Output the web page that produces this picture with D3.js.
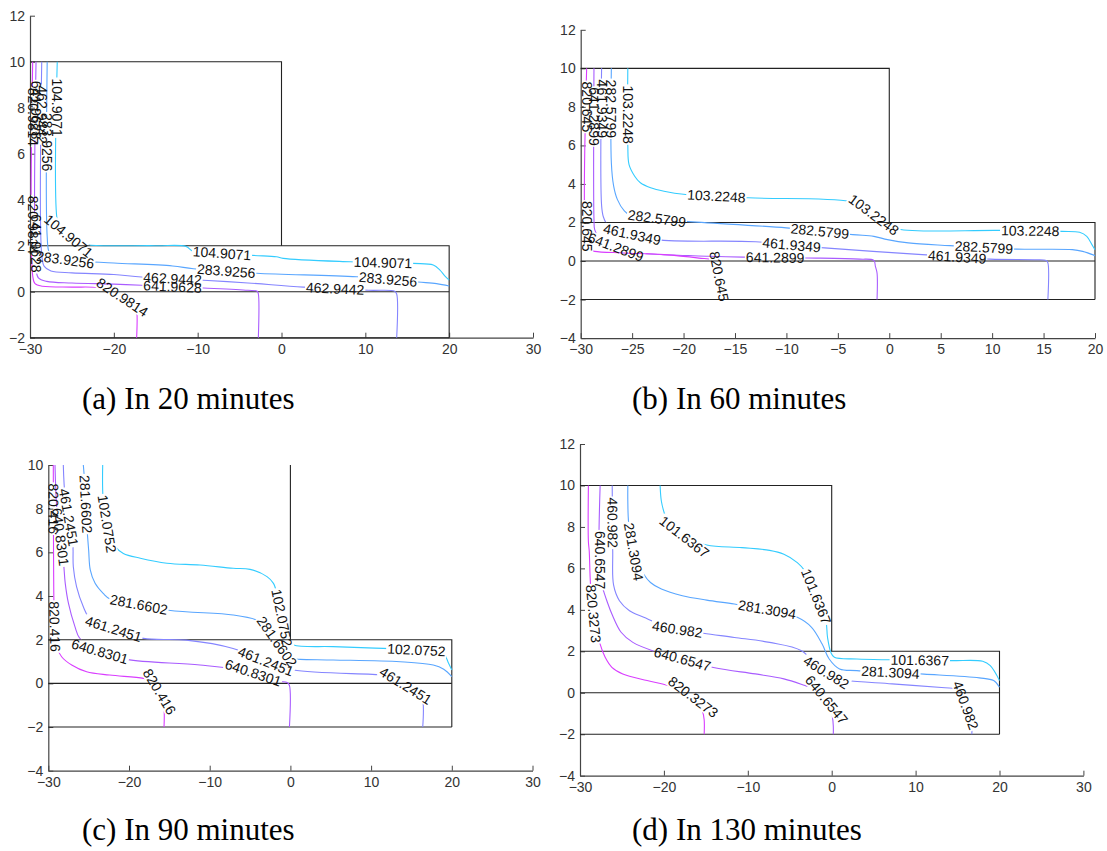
<!DOCTYPE html>
<html>
<head>
<meta charset="utf-8">
<script src="https://cdn.jsdelivr.net/npm/d3@7"></script>
<style>
  body { margin: 0; background: #fff; }
  svg { display: block; }
</style>
</head>
<body>
<svg id="chart" width="1107" height="851"></svg>
<script>
// colours of the five contour levels (low -> high)
const levelColors = ["#33ccff", "#59a6ff", "#8585ff", "#a95cff", "#d93dff"];

// ---------- (a) 20 minutes ----------
const levelsA = [104.9071, 283.9256, 462.9442, 641.9628, 820.9814];
const linesA = [
  [[-26.75,10],[-26.75,3.1],[-26.3,2.7],[-24.5,2.15],[-23,2.03],[-15,2.0],[-11.4,1.97],[-10.5,1.75],[-3.5,1.58],[-0.6,1.52],[0.2,1.45],[8.2,1.3],[15.7,1.23],[18.1,1.16],[18.9,0.94],[19.5,0.68],[20,0.5]],
  [[-27.95,10],[-27.95,2.4],[-27.7,1.7],[-27,1.45],[-25,1.35],[-20,1.25],[-13,1.12],[-10.5,1.0],[-3,0.8],[9,0.65],[16.3,0.42],[18.5,0.35],[20,0.25]],
  [[-28.6,10],[-28.6,1.6],[-28.3,1.1],[-27.5,0.9],[-25,0.82],[-20,0.75],[-16.7,0.64],[-9.3,0.5],[-4,0.38],[2.6,0.2],[10.4,0.06],[13.5,0.02],[13.74,-0.1],[13.74,-2]],
  [[-29.28,10],[-29.28,1.0],[-29.0,0.6],[-28,0.45],[-25,0.38],[-20,0.33],[-16.7,0.28],[-9.3,0.16],[-4,0.06],[-2.9,0.02],[-2.76,-0.1],[-2.76,-2]],
  [[-29.68,10],[-29.68,0.7],[-29.4,0.35],[-28.5,0.24],[-25,0.2],[-22,0.18],[-20,0.0],[-17.5,-0.6],[-17.28,-0.8],[-17.28,-2]]
];
const labelsA = [
  [0,-26.75,8.0],[0,-25.4,2.42],[0,-7.1,1.66],[0,12.1,1.27],
  [1,-27.95,6.5],[1,-25.8,1.38],[1,-6.6,0.88],[1,12.7,0.5],
  [2,-28.6,7.7],[2,-13.0,0.57],[2,6.4,0.12],
  [3,-29.28,7.9],[3,-29.28,2.1],[3,-13.0,0.22],
  [4,-29.68,7.6],[4,-29.68,2.9],[4,-19.0,-0.25]
];
const wallsA = [[[-30,10],[0,10],[0,2]], [[-30,2],[20,2],[20,-2]], [[-30,0],[20,0]], [[-30,-2],[20,-2]]];
const xTicksA = [-30,-20,-10,0,10,20,30];
const yTicksA = [-2,0,2,4,6,8,10,12];

// ---------- (b) 60 minutes ----------
const levelsB = [103.2248, 282.5799, 461.9349, 641.2899, 820.645];
const linesB = [
  [[-25.42,10],[-25.42,6],[-25.3,5.0],[-24.75,4.4],[-24.2,4.06],[-23.2,3.8],[-21.9,3.62],[-19.8,3.45],[-13.7,3.28],[-3.9,3.1],[-2.5,2.8],[-0.5,2.0],[0.85,1.66],[10.7,1.59],[16.8,1.54],[18.5,1.49],[19.2,1.28],[19.7,0.85],[20,0.59]],
  [[-27.02,10],[-27.02,5.1],[-26.8,3.9],[-26.44,3.2],[-25.76,2.6],[-25.25,2.4],[-22.5,2.2],[-19.8,2.06],[-10,1.72],[-3.56,1.37],[-1.5,1.28],[-0.17,1.11],[1.86,0.94],[5.9,0.8],[12.4,0.62],[17.8,0.59],[18.8,0.5],[20,0.28]],
  [[-27.97,10],[-27.97,2.9],[-27.8,2.3],[-27.3,1.8],[-26.5,1.55],[-22.7,1.11],[-13,1.0],[-6.3,0.68],[3.2,0.33],[9.8,0.1],[14.07,0.07],[15.25,0.03],[15.42,-0.1],[15.42,-2]],
  [[-28.71,10],[-28.71,2.2],[-28.64,1.63],[-28.3,1.28],[-27.5,0.9],[-26,0.6],[-24.4,0.42],[-17.5,0.25],[-14.2,0.2],[-8,0.16],[-2.9,0.1],[-1.5,0.03],[-1.35,-0.28],[-1.19,-0.62],[-1.19,-2]],
  [[-29.42,10],[-29.42,0.76],[-29.15,0.59],[-28.64,0.5],[-25.9,0.42],[-21.9,0.33],[-18.5,0.15],[-17.2,0.05],[-16.7,-0.4],[-16.4,-1.2],[-16.27,-1.9],[-16.27,-2]]
];
const labelsB = [
  [0,-25.42,7.6],[0,-16.8,3.4],[0,-1.5,2.4],[0,13.7,1.57],
  [1,-27.02,7.9],[1,-22.6,2.2],[1,-6.75,1.52],[1,9.2,0.71],
  [2,-27.97,7.9],[2,-25.0,1.4],[2,-9.5,0.82],[2,6.6,0.22],
  [3,-28.71,7.5],[3,-26.6,0.7],[3,-11.1,0.18],
  [4,-29.42,8.0],[4,-29.42,1.8],[4,-16.6,-0.8]
];
const wallsB = [[[-30,10],[0,10],[0,2]], [[-30,2],[20,2],[20,-2]], [[-30,0],[20,0]], [[-30,-2],[20,-2]]];
const xTicksB = [-30,-25,-20,-15,-10,-5,0,5,10,15,20];
const yTicksB = [-4,-2,0,2,4,6,8,10,12];

// ---------- (c) 90 minutes ----------
const levelsC = [102.0752, 281.6602, 461.2451, 640.8301, 820.416];
const linesC = [
  [[-23.26,10],[-23.2,8.4],[-22.6,7.0],[-21.7,6.26],[-20.7,5.95],[-18.6,5.73],[-15.3,5.5],[-11.2,5.42],[-7.1,5.27],[-5.0,5.22],[-2.9,4.89],[-2.1,4.58],[-1.6,4.0],[-0.5,2.0],[0.37,1.76],[5.3,1.68],[11.5,1.6],[18.2,1.48],[19.0,1.37],[19.6,0.92],[20,0.61]],
  [[-25.66,10],[-25.45,9.0],[-25.2,7.1],[-25.0,6.1],[-24.8,5.2],[-24.2,4.58],[-23.2,4.12],[-22.3,3.85],[-15.1,3.35],[-7.1,3.13],[-4.2,2.9],[-3.0,2.6],[-0.5,1.3],[0.5,1.12],[1.2,1.1],[5.3,1.07],[13.6,0.99],[17.7,0.84],[19,0.65],[20,0.31]],
  [[-28.14,10],[-27.9,8.5],[-26.98,6.56],[-26.9,5.34],[-26.5,4.43],[-25.66,3.51],[-25.0,3.05],[-22,2.5],[-18.2,2.06],[-12.9,1.98],[-7.1,1.6],[-3,1.0],[0.37,0.61],[11.5,0.38],[12.5,0.3],[16.0,-0.5],[16.4,-0.8],[16.4,-2]],
  [[-29.17,10],[-28.9,7.8],[-28.14,5.65],[-27.9,4.58],[-27.5,3.66],[-26.7,2.6],[-26.1,2.06],[-24,1.5],[-20.3,1.1],[-11.2,0.84],[-5.0,0.53],[-1.5,0.1],[-0.4,0.04],[-0.12,-0.1],[-0.12,-2]],
  [[-29.38,10],[-29.35,6],[-29.3,3.66],[-29.2,2.5],[-28.97,1.68],[-28.35,1.22],[-27.1,0.84],[-25.25,0.53],[-22.4,0.38],[-18.2,0.23],[-17,0.1],[-16.2,-0.4],[-15.7,-1.0],[-15.66,-2]]
];
const labelsC = [
  [0,-22.9,7.3],[0,-1.1,3.0],[0,15.6,1.5],
  [1,-25.9,8.2],[1,-18.8,3.55],[1,-1.7,1.9],
  [2,-27.5,7.6],[2,-21.9,2.5],[2,-3.0,1.05],[2,14.3,-0.1],
  [3,-28.6,6.7],[3,-23.7,1.35],[3,-4.8,0.28],
  [4,-29.35,8.0],[4,-29.2,2.6],[4,-16.3,-0.4]
];
const wallsC = [[[0,10],[0,2]], [[-30,2],[20,2],[20,-2]], [[-30,0],[20,0]], [[-30,-2],[20,-2]]];
const xTicksC = [-30,-20,-10,0,10,20,30];
const yTicksC = [-4,-2,0,2,4,6,8,10];

// ---------- (d) 130 minutes ----------
const levelsD = [101.6367, 281.3094, 460.982, 640.6547, 820.3273];
const linesD = [
  [[-20.45,10],[-20.3,9.24],[-19.9,8.6],[-19.4,8.1],[-17.5,7.5],[-14.9,7.13],[-10.7,7.0],[-7.4,6.87],[-5.7,6.68],[-4.1,6.28],[-3.2,5.88],[-2,4.8],[-0.7,3.48],[-0.5,2.68],[-0.1,1.95],[0.32,1.71],[3.0,1.63],[6.8,1.59],[14.1,1.55],[18.0,1.52],[18.9,1.31],[20,0.59]],
  [[-24.3,10],[-24.3,9.24],[-24.2,8.2],[-23.6,6.8],[-22.4,5.72],[-21.6,5.32],[-20.3,5.0],[-17.8,4.68],[-14.9,4.47],[-11.6,4.28],[-7.5,4.0],[-4.1,3.64],[-2.4,3.16],[-1.14,2.35],[-0.3,1.63],[0.94,1.15],[3.0,1.07],[11.0,0.9],[17.6,0.72],[19.3,0.59],[20,0.27]],
  [[-26.16,10],[-26.1,6.84],[-26.0,5.2],[-25.3,4.44],[-24.1,3.96],[-22.4,3.64],[-19,3.1],[-15.3,2.87],[-11.6,2.67],[-7.4,2.43],[-3.6,2.03],[-1.5,1.2],[0.5,0.7],[1.8,0.59],[7.2,0.43],[13.5,0.24],[14.7,0.19],[15.5,-0.1],[16.5,-1.2],[16.7,-1.6],[16.7,-2]],
  [[-27.6,10],[-27.6,5.4],[-27.2,4.92],[-26.8,4.44],[-26.2,3.8],[-25.1,2.92],[-23.7,2.43],[-21,1.98],[-14.1,1.22],[-9.1,0.91],[-5.7,0.67],[-3.2,0.35],[-1.5,0.1],[-0.3,-0.5],[0.1,-1.2],[0.19,-1.6],[0.19,-2]],
  [[-29.0,10],[-29.0,7.3],[-28.9,6.84],[-28.75,5.24],[-28.4,3.8],[-27.6,2.35],[-27.0,1.71],[-26.2,1.23],[-24.9,0.91],[-22.0,0.59],[-19.5,0.35],[-17.5,0.1],[-16.2,-0.3],[-15.4,-0.9],[-15.2,-1.3],[-15.2,-2]]
];
const labelsD = [
  [0,-17.4,7.6],[0,-2.1,4.6],[0,10.5,1.58],
  [1,-23.65,6.8],[1,-7.7,4.0],[1,7.0,0.98],
  [2,-26.1,8.2],[2,-18.4,3.05],[2,-0.7,0.95],[2,16.0,-0.6],
  [3,-27.6,6.4],[3,-17.8,1.6],[3,-0.8,-0.4],
  [4,-28.6,3.8],[4,-16.6,-0.25]
];
const wallsD = [[[-30,10],[0,10],[0,2]], [[-30,2],[20,2],[20,-2]], [[-30,0],[20,0]], [[-30,-2],[20,-2]]];
const xTicksD = [-30,-20,-10,0,10,20,30];
const yTicksD = [-4,-2,0,2,4,6,8,10,12];

const captions = ["(a) In 20 minutes", "(b) In 60 minutes", "(c) In 90 minutes", "(d) In 130 minutes"];

// panel frames on the page (pixel ranges of the axes)
const panels = [
  { levels: levelsA, lines: linesA, labels: labelsA, walls: wallsA, xt: xTicksA, yt: yTicksA, xr: [30, 533],    yr: [337.7, 15.7], cap: [82, 409] },
  { levels: levelsB, lines: linesB, labels: labelsB, walls: wallsB, xt: xTicksB, yt: yTicksB, xr: [580.7, 1095], yr: [338.1, 29.8], cap: [632, 409] },
  { levels: levelsC, lines: linesC, labels: labelsC, walls: wallsC, xt: xTicksC, yt: yTicksC, xr: [48.3, 532.5], yr: [770.7, 465],  cap: [82, 840] },
  { levels: levelsD, lines: linesD, labels: labelsD, walls: wallsD, xt: xTicksD, yt: yTicksD, xr: [580, 1083.4], yr: [775.7, 444],  cap: [632, 840] }
];

const svg = d3.select("#chart");
svg.append("rect").attr("width", 1107).attr("height", 851).attr("fill", "#fff");
const defs = svg.append("defs");

// nearest point on a screen polyline and the direction of that segment
function anchorOn(pts, sx, sy) {
  let best = null;
  for (let i = 0; i < pts.length - 1; i++) {
    const [x1, y1] = pts[i], [x2, y2] = pts[i + 1];
    const dx = x2 - x1, dy = y2 - y1, L2 = dx * dx + dy * dy || 1;
    const t = Math.max(0, Math.min(1, ((sx - x1) * dx + (sy - y1) * dy) / L2));
    const qx = x1 + t * dx, qy = y1 + t * dy;
    const d = (qx - sx) ** 2 + (qy - sy) ** 2;
    if (!best || d < best.d) best = { d, x: qx, y: qy, a: Math.atan2(dy, dx) * 180 / Math.PI };
  }
  if (best.a > 90) best.a -= 180;
  if (best.a <= -90) best.a += 180;
  return best;
}

panels.forEach((p, pi) => {
  const x = d3.scaleLinear().domain(d3.extent(p.xt)).range(p.xr);
  const y = d3.scaleLinear().domain(d3.extent(p.yt)).range(p.yr);
  const g = svg.append("g");

  // axes, ticks pointing inwards
  const ax = g.append("g")
    .attr("transform", `translate(0,${p.yr[0]})`)
    .call(d3.axisBottom(x).tickValues(p.xt).tickSizeInner(-5).tickSizeOuter(0).tickPadding(6));
  const ay = g.append("g")
    .attr("transform", `translate(${p.xr[0]},0)`)
    .call(d3.axisLeft(y).tickValues(p.yt).tickSizeInner(-5).tickSizeOuter(0).tickPadding(5));
  [ax, ay].forEach(a => {
    a.select(".domain").attr("stroke", "#444").attr("stroke-width", 1.2);
    a.selectAll(".tick line").attr("stroke", "#444");
    a.selectAll("text").attr("font-family", "Liberation Sans, Arial, sans-serif")
      .attr("font-size", 14).attr("fill", "#333");
  });

  // geometry outline
  const line = d3.line().x(d => x(d[0])).y(d => y(d[1]));
  g.selectAll(".wall").data(p.walls).join("path")
    .attr("d", line).attr("fill", "none").attr("stroke", "#222").attr("stroke-width", 1.1);

  // labels first, so their sizes can cut gaps in the lines
  const screen = p.lines.map(l => l.map(d => [x(d[0]), y(d[1])]));
  const placed = p.labels.map(([k, lx, ly]) => Object.assign({ k }, anchorOn(screen[k], x(lx), y(ly))));
  const lab = svg.append("g").selectAll("text").data(placed).join("text")
    .attr("transform", d => `translate(${d.x},${d.y}) rotate(${d.a})`)
    .attr("text-anchor", "middle").attr("dy", "0.35em")
    .attr("font-family", "Liberation Sans, Arial, sans-serif").attr("font-size", 14)
    .attr("fill", "#111")
    .text(d => String(p.levels[d.k]));
  lab.each(function(d) { d.w = this.getComputedTextLength(); });

  const smooth = d3.line().x(d => x(d[0])).y(d => y(d[1])).curve(d3.curveCatmullRom.alpha(0.5));
  p.lines.forEach((pts, k) => {
    const m = defs.append("mask").attr("id", `m${pi}${k}`).attr("maskUnits", "userSpaceOnUse")
      .attr("x", 0).attr("y", 0).attr("width", 1107).attr("height", 851);
    m.append("rect").attr("width", 1107).attr("height", 851).attr("fill", "#fff");
    placed.filter(d => d.k === k).forEach(d => {
      m.append("rect").attr("x", -d.w / 2 - 1).attr("y", -6.5).attr("width", d.w + 2).attr("height", 13)
        .attr("transform", `translate(${d.x},${d.y}) rotate(${d.a})`).attr("fill", "#000");
    });
    g.append("path").datum(pts).attr("d", smooth)
      .attr("fill", "none").attr("stroke", levelColors[k]).attr("stroke-width", 1.1)
      .attr("mask", `url(#m${pi}${k})`);
  });

  svg.append("text").attr("x", p.cap[0]).attr("y", p.cap[1])
    .attr("font-family", "Liberation Serif, 'Times New Roman', serif").attr("font-size", 31)
    .attr("fill", "#000").text(captions[pi]);
});
</script>
</body>
</html>
